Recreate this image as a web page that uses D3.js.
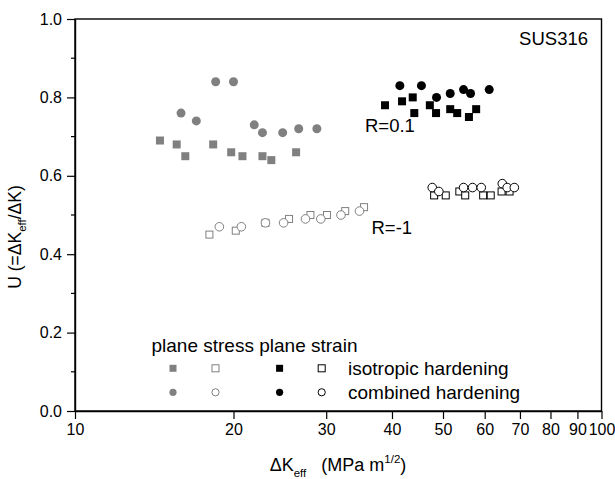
<!DOCTYPE html>
<html><head><meta charset="utf-8">
<script src="https://cdn.jsdelivr.net/npm/d3@7"></script>
<style>body{margin:0;background:#fff}svg{display:block}text{font-family:"Liberation Sans",Arial,sans-serif}</style>
</head><body><svg id="c" width="615" height="479"></svg>
<script>
// ---- data ----
const xTicks = [10,20,30,40,50,60,70,80,90,100];
const yTicksMajor = [0,0.2,0.4,0.6,0.8,1.0];
const yTicksMinor = [0.1,0.3,0.5,0.7,0.9];

const stressIsoR01_x = [14.5,15.6,16.2,18.3,19.8,20.8,22.7,23.6,26.3];
const stressIsoR01_y = [0.69,0.68,0.65,0.68,0.66,0.65,0.65,0.64,0.66];
const stressCombR01_x = [15.9,17.0,18.5,20.0,21.9,22.7,24.8,26.6,28.8];
const stressCombR01_y = [0.76,0.74,0.84,0.84,0.73,0.71,0.71,0.72,0.72];
const strainIsoR01_x = [38.8,41.8,43.8,44.1,47.2,48.5,51.6,53.2,56.0,57.8];
const strainIsoR01_y = [0.78,0.79,0.80,0.76,0.78,0.76,0.77,0.76,0.75,0.77];
const strainCombR01_x = [41.4,45.5,48.6,51.6,54.7,56.4,61.2];
const strainCombR01_y = [0.83,0.83,0.80,0.81,0.82,0.81,0.82];
const stressIsoRm1_x = [18.0,20.2,23.0,25.5,28.0,30.1,32.6,35.4];
const stressIsoRm1_y = [0.45,0.46,0.48,0.49,0.50,0.50,0.51,0.52];
const stressCombRm1_x = [18.8,20.7,23.0,24.9,27.4,29.3,32.0,34.7];
const stressCombRm1_y = [0.47,0.47,0.48,0.48,0.49,0.49,0.50,0.51];
const strainIsoRm1_x = [48.1,50.6,53.7,55.1,59.6,61.6,64.6,66.9];
const strainIsoRm1_y = [0.55,0.55,0.56,0.55,0.55,0.55,0.56,0.56];
const strainCombRm1_x = [47.7,49.1,54.7,56.9,59.1,64.8,66.2,68.3];
const strainCombRm1_y = [0.57,0.56,0.57,0.57,0.57,0.58,0.57,0.57];

const legendHeader = "plane stress plane strain";
const legendRows = ["isotropic hardening","combined hardening"];

// ---- layout ----
const W=615,H=479, m={l:75,r:13.5,t:19,b:68};
const GRAY="#808080";
const FONT="Liberation Sans, Arial, sans-serif";
const svg=d3.select("#c");
const x=d3.scaleLog().domain([10,100]).range([m.l,W-m.r]);
const y=d3.scaleLinear().domain([0,1]).range([H-m.b,m.t]);

// frame
svg.append("rect").attr("x",m.l).attr("y",m.t).attr("width",W-m.r-m.l).attr("height",H-m.b-m.t)
  .attr("fill","none").attr("stroke","#000").attr("stroke-width",1.4);

// x axis
const xa=svg.append("g").attr("transform",`translate(0,${H-m.b})`)
  .call(d3.axisBottom(x).tickValues(xTicks).tickFormat(d3.format("d")).tickSizeInner(8).tickSizeOuter(0).tickPadding(5));
xa.select(".domain").attr("stroke-width",1.4);
xa.selectAll(".tick line").attr("stroke-width",1.2);
xa.selectAll("text").attr("font-size",16).attr("fill","#000").style("font-family",FONT);

// y axis
const ya=svg.append("g").attr("transform",`translate(${m.l},0)`)
  .call(d3.axisLeft(y).tickValues(yTicksMajor).tickFormat(d3.format(".1f")).tickSizeInner(8).tickSizeOuter(0).tickPadding(5));
ya.select(".domain").attr("stroke-width",1.4);
ya.selectAll(".tick line").attr("stroke-width",1.2);
ya.selectAll("text").attr("font-size",16).attr("fill","#000").style("font-family",FONT);
svg.append("g").selectAll("line").data(yTicksMinor).join("line")
  .attr("x1",m.l-4).attr("x2",m.l).attr("y1",d=>y(d)).attr("y2",d=>y(d)).attr("stroke","#000").attr("stroke-width",1.2);

// markers
const SQ=8, CR=4.5, OSQ=7, OCR=4.3;
function zip(xs,ys){return xs.map((v,i)=>({x:v,y:ys[i]}));}
function squares(data,fill,stroke,s){
  svg.append("g").selectAll("rect").data(data).join("rect")
    .attr("x",d=>x(d.x)-s/2).attr("y",d=>y(d.y)-s/2).attr("width",s).attr("height",s)
    .attr("fill",fill).attr("stroke",stroke).attr("stroke-width",stroke==="none"?0:1);
}
function circles(data,fill,stroke,r){
  svg.append("g").selectAll("circle").data(data).join("circle")
    .attr("cx",d=>x(d.x)).attr("cy",d=>y(d.y)).attr("r",r)
    .attr("fill",fill).attr("stroke",stroke).attr("stroke-width",stroke==="none"?0:1);
}
squares(zip(stressIsoR01_x,stressIsoR01_y),GRAY,"none",SQ);
circles(zip(stressCombR01_x,stressCombR01_y),GRAY,"none",CR);
squares(zip(strainIsoR01_x,strainIsoR01_y),"#000","none",SQ);
circles(zip(strainCombR01_x,strainCombR01_y),"#000","none",CR);
squares(zip(stressIsoRm1_x,stressIsoRm1_y),"#fff",GRAY,OSQ);
circles(zip(stressCombRm1_x,stressCombRm1_y),"#fff",GRAY,OCR);
squares(zip(strainIsoRm1_x,strainIsoRm1_y),"#fff","#000",OSQ);
circles(zip(strainCombRm1_x,strainCombRm1_y),"#fff","#000",OCR);

// annotations
svg.append("text").attr("x",588).attr("y",45).attr("text-anchor","end").attr("font-size",18.5).text("SUS316");
svg.append("text").attr("x",365).attr("y",131.5).attr("font-size",18.5).text("R=0.1");
svg.append("text").attr("x",371.5).attr("y",233.5).attr("font-size",18.5).text("R=-1");

// legend
svg.append("text").attr("x",151.5).attr("y",352).attr("font-size",19).text(legendHeader);
const lx=[173,215.5,279.6,321.7], ly=[368.3,392.3];
const LS=7, LR=3.6;
[[GRAY,"none"],["#fff",GRAY],["#000","none"],["#fff","#000"]].forEach((c,i)=>{
  svg.append("rect").attr("x",lx[i]-LS/2).attr("y",ly[0]-LS/2).attr("width",LS).attr("height",LS)
    .attr("fill",c[0]).attr("stroke",c[1]).attr("stroke-width",c[1]==="none"?0:1);
  svg.append("circle").attr("cx",lx[i]).attr("cy",ly[1]).attr("r",LR)
    .attr("fill",c[0]).attr("stroke",c[1]).attr("stroke-width",c[1]==="none"?0:1);
});
legendRows.forEach((t,i)=>svg.append("text").attr("x",348).attr("y",ly[i]+6.5).attr("font-size",19).text(t));

// axis titles
const xt=svg.append("text").attr("x",338).attr("y",471).attr("text-anchor","middle").attr("font-size",18);
xt.append("tspan").text("ΔK");
xt.append("tspan").attr("font-size",11.5).attr("dy",6).text("eff");
xt.append("tspan").attr("dy",-6).text("\u00a0\u00a0 (MPa m");
xt.append("tspan").attr("font-size",11.5).attr("dy",-8).text("1/2");
xt.append("tspan").attr("dy",8).text(")");

const yt=svg.append("text").attr("transform","translate(21,237) rotate(-90)").attr("text-anchor","middle").attr("font-size",17.5);
yt.append("tspan").text("U (=ΔK");
yt.append("tspan").attr("font-size",11.5).attr("dy",5).text("eff");
yt.append("tspan").attr("dy",-5).text("/ΔK)");
</script></body></html>
